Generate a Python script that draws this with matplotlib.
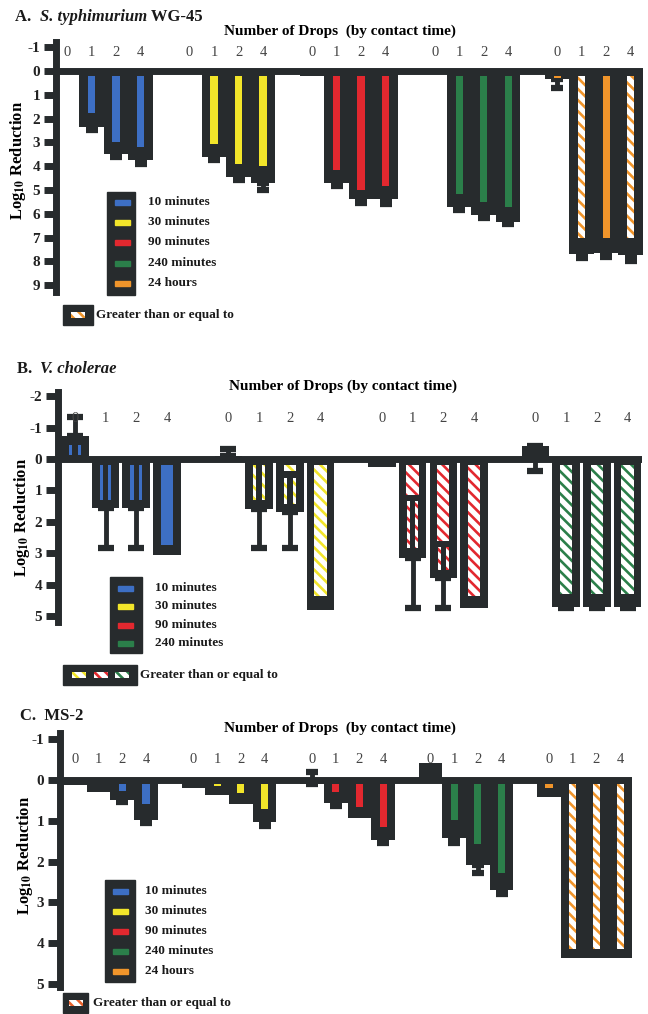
import numpy as np
import matplotlib.pyplot as plt
from matplotlib.patches import Rectangle

plt.rcParams['font.family'] = ['Liberation Serif', 'DejaVu Serif']
plt.rcParams['mathtext.fontset'] = 'stix'
plt.rcParams['hatch.linewidth'] = 1.9

nan = np.nan
DARK = '#272b2d'
HATCH = '\\\\\\'

drops = ['0', '1', '2', '4']
times = ['10 minutes', '30 minutes', '90 minutes', '240 minutes', '24 hours']
colors = ['#3d6fc4', '#f2e52a', '#e2282f', '#2b7f4a', '#f0952b']

# A. S. typhimurium WG-45 (rows = contact time, cols = drops 0,1,2,4)
a_vals = [[0.0, 2.35, 3.5, 3.75], [0.1, 3.6, 4.45, 4.7], [0.2, 4.7, 5.4, 5.4],
          [0.1, 5.7, 6.05, 6.35], [0.35, 7.7, 7.65, 7.75]]
a_err = [[nan, 2.5, 3.6, 3.9], [nan, 3.75, 4.6, 5.0], [nan, 4.85, 5.55, 5.6],
         [nan, 5.85, 6.2, 6.45], [0.7, 7.85, 7.8, 8.0]]
a_stripe = [[nan, 1.75, 3.0, 3.2], [nan, 3.05, 3.9, 4.0], [nan, 4.15, 5.0, 4.85],
            [nan, 5.15, 5.5, 5.7], [0.3, 7.0, 7.0, 7.0]]
a_hatch = [[0, 0, 0, 0], [0, 0, 0, 0], [0, 0, 0, 0], [0, 0, 0, 0], [0, 1, 0, 1]]

# B. V. cholerae
b_vals = [[-0.73, 1.55, 1.55, 3.05], [-0.1, 1.6, 1.7, 4.8], [0.25, 3.15, 3.8, 4.75],
          [-0.4, 4.7, 4.7, 4.7]]
b_err = [[-1.35, 2.85, 2.85, nan], [-0.3, 2.85, 2.85, nan], [nan, 4.75, 4.75, nan],
         [0.38, 4.75, 4.75, 4.75]]
b_stripe = [[nan, nan, nan, 2.75], [nan, nan, 0.4, 4.35], [nan, 1.15, 2.6, 4.35],
            [nan, 4.3, 4.3, 4.3]]
b_dbl_start = [[-0.45, 0.2, 0.2, nan], [nan, 0.2, 0.6, nan], [nan, 1.35, 2.8, nan],
               [nan, nan, nan, nan]]
b_dbl_end = [[-0.13, 1.3, 1.3, nan], [nan, 1.3, 1.45, nan], [nan, 2.85, 3.55, nan],
             [nan, nan, nan, nan]]
b_hatch = [[0, 0, 0, 0], [1, 1, 1, 1], [1, 1, 1, 1], [1, 1, 1, 1]]

# C. MS-2
c_vals = [[0.12, 0.3, 0.5, 0.98], [0.2, 0.38, 0.6, 1.03], [0.1, 0.57, 0.93, 1.47],
          [-0.42, 1.42, 2.08, 2.7], [0.42, 4.36, 4.36, 4.36]]
c_err = [[nan, nan, 0.55, 1.05], [nan, nan, nan, 1.12], [-0.2, 0.63, nan, 1.55],
         [nan, 1.55, 2.28, 2.8], [nan, nan, nan, nan]]
c_stripe = [[nan, nan, 0.28, 0.6], [nan, 0.15, 0.32, 0.7], [nan, 0.3, 0.65, 1.15],
            [nan, 0.98, 1.57, 2.28], [0.2, 4.15, 4.15, 4.15]]
c_hatch = [[0, 0, 0, 0], [0, 0, 0, 0], [0, 0, 0, 0], [0, 0, 0, 0], [0, 1, 1, 1]]

W, H = 648, 1014
fig = plt.figure(figsize=(W / 100, H / 100), dpi=100)
ov = fig.add_axes([0, 0, 1, 1], zorder=5)
ov.set_xlim(0, W)
ov.set_ylim(H, 0)
ov.axis('off')
rend = fig.canvas.get_renderer()


def make_axes(box, xlim, ylim, yticks):
    l, t, r, b = box
    ax = fig.add_axes([l / W, 1 - b / H, (r - l) / W, (b - t) / H])
    ax.set_xlim(*xlim)
    ax.set_ylim(*ylim)
    ax.patch.set_alpha(0)
    for s in ['top', 'right', 'bottom']:
        ax.spines[s].set_visible(False)
    ax.spines['left'].set_linewidth(5)
    ax.spines['left'].set_color(DARK)
    ax.set_xticks([])
    ax.set_yticks(yticks)
    ax.set_yticklabels([str(v) for v in yticks], fontweight='bold')
    ax.tick_params(axis='y', direction='out', length=9, width=5, color=DARK,
                   labelsize=11, pad=2.5, labelcolor='#222222')
    ax.axhline(0, color=DARK, lw=5, zorder=2)
    return ax


def strip(ax, x, y0, y1, w, c, hatched):
    if np.isnan(y0) or np.isnan(y1):
        return
    if hatched:
        ax.bar(x, y1 - y0, bottom=y0, width=w, color='white', edgecolor=c,
               hatch=HATCH, linewidth=0, zorder=3)
    else:
        ax.bar(x, y1 - y0, bottom=y0, width=w, color=c, linewidth=0, zorder=3)


def draw(ax, vals, err, stripe, hatch, bar_w, sw, s0, capsize, lab_y,
         dbl0=None, dbl1=None):
    for g in range(len(vals)):
        x = g * 5 + np.arange(4)
        v = np.array(vals[g])
        e = np.array(err[g])
        ax.bar(x, v, width=bar_w, color=DARK, linewidth=0, zorder=2)
        m = ~np.isnan(e)
        if m.any():
            lo = np.clip(v - e, 0, None)
            hi = np.clip(e - v, 0, None)
            ax.errorbar(x[m], v[m], yerr=[lo[m], hi[m]], fmt='none', ecolor=DARK,
                        elinewidth=3.5, capsize=capsize, capthick=4.5, zorder=1)
        for i in range(4):
            strip(ax, x[i], s0, stripe[g][i], sw, colors[g], hatch[g][i])
            if dbl0 is not None:
                for off in (-0.14, 0.14):
                    strip(ax, x[i] + off, dbl0[g][i], dbl1[g][i], 0.1, colors[g],
                          hatch[g][i])
            ax.text(x[i], lab_y, drops[i], ha='center', va='center', fontsize=10.5,
                    color='#444444')


def runs(x, y, parts, size):
    for txt, style in parts:
        t = ov.text(x, y, txt, fontsize=size, fontweight='bold', fontstyle=style,
                    va='center', ha='left', color='#1a1a1a')
        x += t.get_window_extent(rend).width


def legend(box, sw_x, sw_ys, labels, cols, tx):
    l, t, r, b = box
    ov.add_patch(Rectangle((l, t), r - l, b - t, color=DARK, zorder=1))
    for y, lab, c in zip(sw_ys, labels, cols):
        ov.add_patch(Rectangle((sw_x, y - 2.5), 15, 5, color=c, zorder=2))
        ov.text(tx, y, lab, fontsize=9.5, fontweight='bold', va='center',
                color='#1a1a1a')


def geq(box, sw_xs, cols, tx):
    l, t, r, b = box
    ov.add_patch(Rectangle((l, t), r - l, b - t, color=DARK, zorder=1))
    yc = (t + b) / 2
    for x, c in zip(sw_xs, cols):
        ov.add_patch(Rectangle((x, yc - 3), 14, 6, facecolor='white', edgecolor=c,
                               hatch=HATCH, linewidth=0, zorder=2))
    ov.text(tx, yc, 'Greater than or equal to', fontsize=9.5, fontweight='bold',
            va='center', color='#1a1a1a')


ylab = r'Log$_{\mathbf{10}}$ Reduction'
head = 'Number of Drops  (by contact time)'

# panel A
axA = make_axes((56, 42, 643, 292), (-0.45, 23.5), (9.29, -1.22), range(-1, 10))
draw(axA, a_vals, a_err, a_stripe, a_hatch, 1.0, 0.3, 0.2, 4.5, -0.76)
runs(15, 17, [('A.  ', 'normal'), ('S. typhimurium', 'italic'), (' WG-45', 'normal')], 12)
ov.text(340, 31, head, fontsize=11, fontweight='bold', ha='center', va='center')
ov.text(18, 160, ylab, fontsize=12, fontweight='bold', rotation=90, ha='center', va='center')
legend((107, 192, 135, 295), 115, [202, 222, 242, 263, 283], times, colors, 148)
geq((63, 305, 93, 325), [71], [colors[4]], 96)

# panel B
axB = make_axes((58, 392, 642, 622), (-0.55, 18.47), (5.19, -2.13), range(-2, 6))
draw(axB, b_vals, b_err, b_stripe, b_hatch, 0.9, 0.4, 0.2, 6, -1.3, b_dbl_start, b_dbl_end)
runs(17, 369, [('B.  ', 'normal'), ('V. cholerae', 'italic')], 12)
ov.text(343, 386, head.replace('  (', ' ('), fontsize=11, fontweight='bold',
        ha='center', va='center')
ov.text(22, 517, ylab, fontsize=12, fontweight='bold', rotation=90, ha='center', va='center')
legend((110, 577, 142, 653), 118, [588, 606, 625, 643], times[:4], colors[:4], 155)
geq((63, 665, 137, 685), [72, 94, 115], colors[1:4], 140)

# panel C
axC = make_axes((60, 733, 632, 987), (-0.63, 23.5), (5.07, -1.15), range(-1, 6))
draw(axC, c_vals, c_err, c_stripe, c_hatch, 1.0, 0.3, 0.1, 4.5, -0.49)
runs(20, 716, [('C.  MS-2', 'normal')], 12)
ov.text(340, 728, head, fontsize=11, fontweight='bold', ha='center', va='center')
ov.text(25, 855, ylab, fontsize=12, fontweight='bold', rotation=90, ha='center', va='center')
legend((105, 880, 135, 982), 113, [891, 911, 931, 951, 971], times, colors, 145)
geq((63, 993, 88, 1013), [69], ['#e8602a'], 93)

fig.savefig('out.png', dpi=100)
